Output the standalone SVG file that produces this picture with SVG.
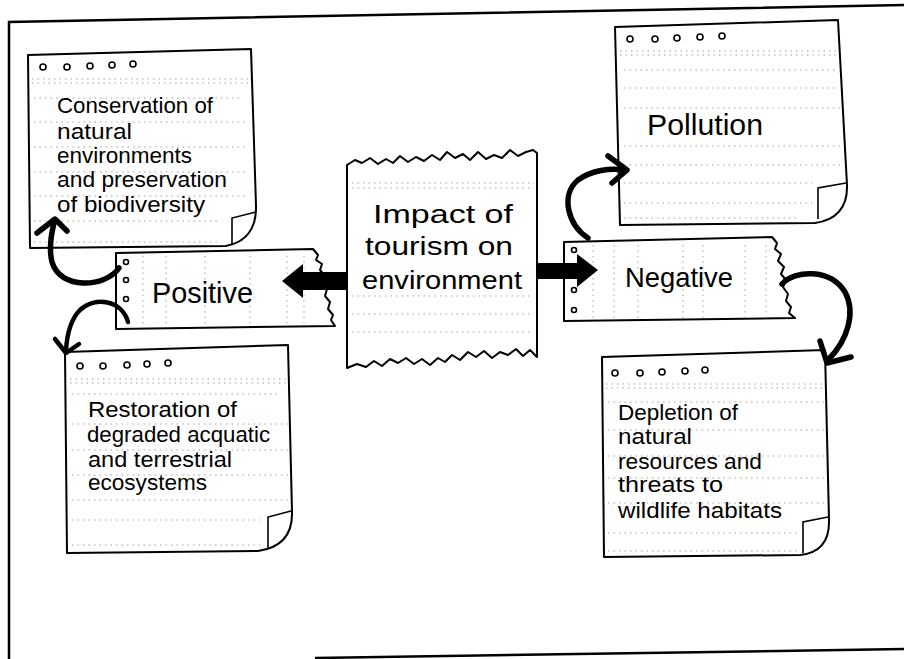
<svg xmlns="http://www.w3.org/2000/svg" width="904" height="659" viewBox="0 0 904 659">
<style>
.bg{fill:#fff}
.frame{fill:none;stroke:#000;stroke-width:2.5}
.shape{fill:#fff;stroke:#000;stroke-width:2;stroke-linejoin:round}
.flap{fill:none;stroke:#000;stroke-width:1.6}
.hole{fill:#fff;stroke:#000;stroke-width:1.6}
.dots{fill:none;stroke:#999;stroke-width:0.9;stroke-dasharray:1.5 4}
.t{font-family:"Liberation Sans",Arial,sans-serif;fill:#000}
.note{font-size:22px}
.big{font-size:26px}
.curve{fill:none;stroke:#000;stroke-width:5.5;stroke-linecap:round;stroke-linejoin:round}
.block{fill:#000}
</style>
<rect class="bg" x="0" y="0" width="904" height="659"/>
<path class="frame" d="M9 659 L9 22 L904 5"/>
<path class="frame" d="M315 658 L904 649"/>

<g id="node-conservation">
<path class="shape" d="M28 55 L251 49 L256 205 Q257 240 226 246 L30 248 Z"/>
<path class="flap" d="M232 244 L232 218 L256 212"/>
<g class="hole"><circle cx="43" cy="67" r="3"/><circle cx="67" cy="67" r="3"/><circle cx="90" cy="66" r="3"/><circle cx="112" cy="65" r="3"/><circle cx="133" cy="64" r="3"/></g>
<path class="dots" d="M32 79 H250 M32 83 H250 M34 98 H240 M34 122 H248 M34 147 H248 M34 172 H248 M34 196 H248 M34 221 H220 M34 242 H220"/>
<text class="t note"><tspan x="57" y="113" textLength="156" lengthAdjust="spacingAndGlyphs">Conservation of</tspan><tspan x="57" y="139" textLength="75" lengthAdjust="spacingAndGlyphs">natural</tspan><tspan x="57" y="163" textLength="135" lengthAdjust="spacingAndGlyphs">environments</tspan><tspan x="57" y="187" textLength="170" lengthAdjust="spacingAndGlyphs">and preservation</tspan><tspan x="57" y="212" textLength="148" lengthAdjust="spacingAndGlyphs">of biodiversity</tspan></text>
</g>

<g id="node-pollution">
<path class="shape" d="M615 27 L838 20 L847 185 Q848 218 815 223 L620 225 Z"/>
<path class="flap" d="M818 219 L818 188 L846 183"/>
<g class="hole"><circle cx="630" cy="39" r="3"/><circle cx="655" cy="39" r="3"/><circle cx="677" cy="38" r="3"/><circle cx="700" cy="37" r="3"/><circle cx="722" cy="36" r="3"/></g>
<path class="dots" d="M620 51 H838 M620 55 H838 M624 70 H835 M624 88 H838 M624 108 H840 M624 146 H842 M624 165 H842 M624 183 H812 M624 203 H812 M624 218 H800"/>
<text class="t" x="647" y="135" font-size="30" textLength="116" lengthAdjust="spacingAndGlyphs">Pollution</text>
</g>

<g id="node-center">
<path class="shape" d="M347 165 L355 160 L362 163 L370 158 L378 164 L386 159 L393 163 L400 156 L408 162 L416 157 L424 161 L432 155 L440 160 L447 152 L455 158 L463 154 L470 160 L478 152 L486 159 L494 155 L502 158 L510 150 L518 156 L526 152 L533 150 L537 153 L537 357 L530 350 L523 356 L516 349 L508 355 L500 352 L492 358 L484 351 L476 357 L468 352 L460 360 L452 355 L445 362 L438 358 L430 365 L422 359 L414 364 L406 358 L398 363 L390 359 L382 366 L374 361 L366 367 L357 364 L347 368 Z"/>
<path class="dots" d="M352 183 H534 M352 188 H534 M352 296 H534 M352 314 H534 M352 332 H530"/>
<text class="t big"><tspan x="373" y="223" textLength="140" lengthAdjust="spacingAndGlyphs">Impact of</tspan><tspan x="365" y="255" textLength="148" lengthAdjust="spacingAndGlyphs">tourism on</tspan><tspan x="362" y="289" textLength="160" lengthAdjust="spacingAndGlyphs">environment</tspan></text>
</g>

<g id="node-positive">
<path class="shape" d="M116 253 L313 249 L318 255 L316 260 L322 264 L320 270 L325 276 L322 283 L327 289 L325 296 L330 302 L328 309 L333 315 L331 320 L335 326 L116 329 Z"/>
<path class="dots" d="M143 256 V326 M166 256 V326 M205 256 V326 M250 256 V326 M287 256 V326 M304 256 V326"/>
<g class="hole"><circle cx="126" cy="262" r="2.5"/><circle cx="126" cy="280" r="2.5"/><circle cx="126" cy="299" r="2.5"/></g>
<text class="t" x="152" y="303" font-size="29" textLength="101" lengthAdjust="spacingAndGlyphs">Positive</text>
</g>

<g id="node-negative">
<path class="shape" d="M564 242 L772 237 L777 243 L775 249 L781 254 L778 261 L784 267 L781 274 L786 280 L783 287 L788 294 L786 301 L791 307 L789 313 L795 318 L564 321 Z"/>
<path class="dots" d="M593 245 V318 M614 245 V318 M638 245 V318 M683 245 V318 M703 245 V318 M745 245 V318 M766 245 V318"/>
<g class="hole"><circle cx="574" cy="250" r="2.5"/><circle cx="574" cy="290" r="2.5"/><circle cx="574" cy="310" r="2.5"/></g>
<text class="t" x="625" y="287" font-size="28" textLength="108" lengthAdjust="spacingAndGlyphs">Negative</text>
</g>

<g id="node-restoration">
<path class="shape" d="M65 352 L288 345 L292 512 Q293 546 258 551 L67 553 Z"/>
<path class="flap" d="M268 549 L268 517 L291 511"/>
<g class="hole"><circle cx="80" cy="366" r="3"/><circle cx="103" cy="366" r="3"/><circle cx="127" cy="365" r="3"/><circle cx="147" cy="364" r="3"/><circle cx="168" cy="363" r="3"/></g>
<path class="dots" d="M70 379 H288 M70 383 H288 M72 394 H280 M72 424 H288 M72 450 H288 M72 475 H288 M72 500 H288 M72 520 H260 M72 545 H260"/>
<text class="t note"><tspan x="88" y="417" textLength="149" lengthAdjust="spacingAndGlyphs">Restoration of</tspan><tspan x="87" y="442" textLength="183" lengthAdjust="spacingAndGlyphs">degraded acquatic</tspan><tspan x="88" y="467" textLength="144" lengthAdjust="spacingAndGlyphs">and terrestrial</tspan><tspan x="88" y="490" textLength="119" lengthAdjust="spacingAndGlyphs">ecosystems</tspan></text>
</g>

<g id="node-depletion">
<path class="shape" d="M602 357 L825 350 L829 520 Q830 552 800 555 L604 557 Z"/>
<path class="flap" d="M803 553 L803 522 L828 517"/>
<g class="hole"><circle cx="615" cy="373" r="3"/><circle cx="640" cy="373" r="3"/><circle cx="662" cy="372" r="3"/><circle cx="685" cy="371" r="3"/><circle cx="705" cy="370" r="3"/></g>
<path class="dots" d="M606 384 H825 M606 388 H825 M608 402 H825 M608 430 H825 M608 456 H828 M608 478 H828 M608 503 H828 M608 533 H800 M608 551 H800"/>
<text class="t note"><tspan x="618" y="420" textLength="120" lengthAdjust="spacingAndGlyphs">Depletion of</tspan><tspan x="618" y="444" textLength="74" lengthAdjust="spacingAndGlyphs">natural</tspan><tspan x="618" y="469" textLength="144" lengthAdjust="spacingAndGlyphs">resources and</tspan><tspan x="618" y="492" textLength="105" lengthAdjust="spacingAndGlyphs">threats to</tspan><tspan x="618" y="518" textLength="164" lengthAdjust="spacingAndGlyphs">wildlife habitats</tspan></text>
</g>

<g id="connectors">
<polygon class="block" points="347,272 303,272 303,264 282,281 303,298 303,290 347,290"/>
<polygon class="block" points="537,263 577,263 577,254 598,270 577,287 577,279 537,279"/>
<path class="curve" d="M119 268 C105 288 60 290 52 262 C49 250 51 235 54 223"/>
<path class="curve" d="M37 233 L55 219 L67 231"/>
<path class="curve" style="stroke-width:4.5" d="M128 322 C122 300 95 296 80 310 C70 320 67 335 66 350"/>
<path class="curve" style="stroke-width:4.5" d="M55 339 L66 353 L79 344"/>
<path class="curve" d="M588 238 C568 225 560 195 578 180 C592 170 610 168 624 170"/>
<path class="curve" d="M608 156 L627 170 L612 183"/>
<path class="curve" d="M782 284 C795 270 830 268 845 292 C856 312 848 340 828 360"/>
<path class="curve" d="M820 341 L827 363 L851 357"/>
</g>
</svg>
